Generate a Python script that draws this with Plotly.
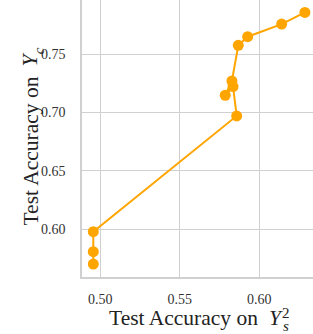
import plotly.graph_objects as go

acc_ys2 = [0.4956, 0.4956, 0.4956, 0.5858, 0.5835, 0.5786, 0.5828, 0.5868, 0.5927, 0.6141, 0.6287]
acc_yc = [0.5703, 0.5809, 0.5980, 0.6970, 0.7221, 0.7147, 0.7269, 0.7574, 0.7648, 0.7756, 0.7856]

xticks = [0.50, 0.55, 0.60]
yticks = [0.60, 0.65, 0.70, 0.75]

fig = go.Figure()
fig.add_trace(go.Scatter(
    x=acc_ys2, y=acc_yc, mode="lines+markers",
    line=dict(color="#FFA500", width=2),
    marker=dict(color="#FFA500", size=11),
    showlegend=False, cliponaxis=False,
))

font_family = "Liberation Serif"
axis_common = dict(
    showgrid=True, gridcolor="#d0d0d0", gridwidth=1.3,
    showline=True, linecolor="#d0d0d0", linewidth=1.5,
    zeroline=False, ticks="", automargin=False,
    tickfont=dict(family=font_family, size=14, color="#333333"),
    tickformat=".2f",
)
fig.update_xaxes(range=[0.4885, 0.6338], tickvals=xticks, ticklabelstandoff=8, **axis_common)
fig.update_yaxes(range=[0.5592, 0.7962], tickvals=yticks, ticklabelstandoff=12, **axis_common)

main_font = dict(family=font_family, size=21.5, color="#222222")
small_font = dict(family=font_family, size=15, color="#222222")


def ann(text, x, y, font, angle=0, xanchor="center"):
    fig.add_annotation(text=text, xref="paper", yref="paper", x=x, y=y,
                       xanchor=xanchor, yanchor="middle", textangle=angle,
                       showarrow=False, font=font)


# x-axis title
ann("Test Accuracy on", 0.1082, -0.1498, main_font, xanchor="left")
ann("<i>Y</i>", 0.840, -0.1498, main_font)
ann("2", 0.885, -0.130, small_font)
ann("<i>s</i>", 0.881, -0.177, small_font)

# y-axis title
ann("Test Accuracy on", -0.225, 0.453, main_font, angle=-90)
ann("<i>Y</i>", -0.225, 0.785, main_font, angle=-90)
ann("<i>c</i>", -0.183, 0.818, small_font, angle=-90)

fig.update_layout(
    width=313, height=334,
    margin=dict(l=82, r=0, t=0, b=57),
    plot_bgcolor="white", paper_bgcolor="white",
    font=dict(family=font_family),
)
fig.write_html("out.html", config={"displayModeBar": False},
               post_script="document.body.style.margin='0';document.body.style.padding='0';")
